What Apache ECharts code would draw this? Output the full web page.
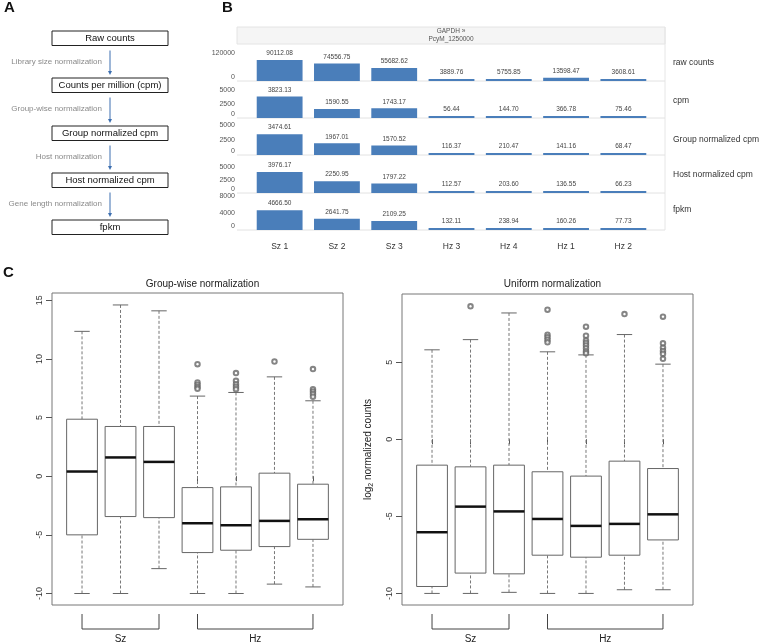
<!DOCTYPE html>
<html><head><meta charset="utf-8">
<script src="https://cdn.jsdelivr.net/npm/echarts@6/dist/echarts.min.js"></script>
<style>html,body{margin:0;padding:0;background:#fff}#c{width:759px;height:643px}</style>
</head><body><div id="c"></div><script>
// ---------- DATA ----------
const flowSteps = ['Raw counts', 'Counts per million (cpm)', 'Group normalized cpm', 'Host normalized cpm', 'fpkm'];
const flowLabels = ['Library size normalization', 'Group-wise normalization', 'Host normalization', 'Gene length normalization'];

const samples = ['Sz 1', 'Sz 2', 'Sz 3', 'Hz 3', 'Hz 4', 'Hz 1', 'Hz 2'];
const rowNames = ['raw counts', 'cpm', 'Group normalized cpm', 'Host normalized cpm', 'fpkm'];
const headerLines = ['GAPDH \u00bb', 'PcyM_1250000'];
const rawCounts = [90112.08, 74556.75, 55682.62, 3889.76, 5755.85, 13598.47, 3608.61];
const cpmValues = [3823.13, 1590.55, 1743.17, 56.44, 144.70, 366.78, 75.46];
const groupCpm  = [3474.61, 1967.01, 1570.52, 116.37, 210.47, 141.16, 68.47];
const hostCpm   = [3976.17, 2250.95, 1797.22, 112.57, 203.60, 136.55, 66.23];
const fpkmValues = [4666.50, 2641.75, 2109.25, 132.11, 238.94, 160.26, 77.73];
const rowTicks = [[0, 120000], [0, 2500, 5000], [0, 2500, 5000], [0, 2500, 5000], [0, 4000, 8000]];

const boxGroups = ['Sz', 'Hz'];
const boxGroupRanges = [[1, 3], [4, 7]];
// [lower whisker, Q1, median, Q3, upper whisker]
const groupwiseBoxes = [
  [-10, -5.0, 0.40, 4.86, 12.35],
  [-10, -3.44, 1.60, 4.24, 14.6],
  [-7.88, -3.53, 1.22, 4.24, 14.1],
  [-10, -6.51, -4.01, -0.97, 6.83],
  [-10, -6.31, -4.18, -0.91, 7.14],
  [-9.2, -6.0, -3.81, 0.26, 8.47],
  [-9.44, -5.38, -3.67, -0.68, 6.43]
];
const groupwiseOutliers = [[], [], [], [9.55, 8.0, 7.8, 7.6, 7.45], [8.79, 8.13, 7.85, 7.62, 7.42], [9.78], [9.13, 7.42, 7.22, 7.0, 6.78]];
const groupwiseTicks = [-10, -5, 0, 5, 10, 15];

const uniformBoxes = [
  [-10, -9.55, -6.03, -1.68, 5.8],
  [-10, -8.68, -4.37, -1.79, 6.46],
  [-9.93, -8.73, -4.68, -1.68, 8.19],
  [-10, -7.52, -5.17, -2.11, 5.67],
  [-10, -7.65, -5.62, -2.39, 5.47],
  [-9.76, -7.52, -5.49, -1.42, 6.79],
  [-9.76, -6.53, -4.87, -1.9, 4.87]
];
const uniformOutliers = [[], [8.62], [], [8.4, 6.77, 6.62, 6.46, 6.29], [7.3, 6.72, 6.4, 6.25, 6.08, 5.9, 5.71, 5.58], [8.12], [7.95, 6.22, 5.93, 5.72, 5.54, 5.22]];
const uniformTicks = [-10, -5, 0, 5];
const boxPositions = [1, 2, 3, 4, 5, 6, 7];

// ---------- LAYOUT / STYLE ----------
const FONT = '"Liberation Sans", Arial, Helvetica, sans-serif';
const chart = echarts.init(document.getElementById('c'), null, {renderer: 'canvas'});

const A = {left: 52, width: 116, tops: [31, 78, 126, 173, 220], h: 14.5, arrowX: 110, labelRight: 102};
const B = {left: 251, right: 107, tops: [44, 81, 118, 156, 193], h: 37, paneL: 237, paneR: 665, headerTop: 27, headerH: 17,
  rowMax: [158600, 6610, 6170, 7030, 8700], rowLabelX: 673, rowLabelY: [63, 101, 140, 175, 210]};
const rowSeries = [rawCounts, cpmValues, groupCpm, hostCpm, fpkmValues];
const C = [
  {left: 52, top: 293, width: 291, height: 312, ymin: -10.98, ymax: 15.62, ticks: groupwiseTicks, boxes: groupwiseBoxes, outl: groupwiseOutliers, title: 'Group-wise normalization', ylab: null},
  {left: 402, top: 294, width: 291, height: 311, ymin: -10.75, ymax: 9.42, ticks: uniformTicks, boxes: uniformBoxes, outl: uniformOutliers, title: 'Uniform normalization', ylab: 'log{s|2} normalized counts'}
];

const grids = [], xAxes = [], yAxes = [], series = [], graphics = [], titles = [];

// ---------- Panel A ----------
graphics.push({type: 'text', id: 'lA', left: 4, top: 0, style: {text: 'A', fontSize: 15, fontWeight: 'bold', fontFamily: FONT, fill: '#111'}});
flowSteps.forEach((s, i) => {
  graphics.push({type: 'rect', id: 'fb' + i, shape: {x: A.left, y: A.tops[i], width: A.width, height: A.h}, style: {fill: '#fff', stroke: '#222', lineWidth: 1}});
  graphics.push({type: 'text', id: 'ft' + i, x: A.left + A.width / 2, y: A.tops[i] + A.h / 2 + 0.5, style: {text: s, fontSize: 9.5, fontFamily: FONT, fill: '#111', align: 'center', verticalAlign: 'middle'}});
});
flowLabels.forEach((s, i) => {
  const y1 = A.tops[i] + A.h + 5, y2 = A.tops[i + 1] - 3;
  graphics.push({type: 'line', id: 'fa' + i, shape: {x1: A.arrowX, y1: y1, x2: A.arrowX, y2: y2 - 3}, style: {stroke: '#3d6fb0', lineWidth: 1}});
  graphics.push({type: 'polygon', id: 'fh' + i, shape: {points: [[A.arrowX - 2, y2 - 4], [A.arrowX + 2, y2 - 4], [A.arrowX, y2]]}, style: {fill: '#3d6fb0'}});
  graphics.push({type: 'text', id: 'fl' + i, x: A.labelRight, y: (A.tops[i] + A.h + A.tops[i + 1]) / 2, style: {text: s, fontSize: 8, fontFamily: FONT, fill: '#8a8a8a', align: 'right', verticalAlign: 'middle'}});
});

// ---------- Panel B ----------
graphics.push({type: 'text', id: 'lB', left: 222, top: 0, style: {text: 'B', fontSize: 15, fontWeight: 'bold', fontFamily: FONT, fill: '#111'}});
graphics.push({type: 'rect', id: 'hdr', z: -1, shape: {x: B.paneL, y: B.headerTop, width: B.paneR - B.paneL, height: B.headerH}, style: {fill: '#f5f5f5', stroke: '#e4e4e4', lineWidth: 1}});
graphics.push({type: 'text', id: 'hdrt', x: (B.paneL + B.paneR) / 2, y: B.headerTop + B.headerH / 2, style: {text: headerLines.join('\n'), fontSize: 6.5, lineHeight: 8, fontFamily: FONT, fill: '#555', align: 'center', verticalAlign: 'middle'}});
graphics.push({type: 'line', id: 'vr', shape: {x1: B.paneR, y1: B.headerTop, x2: B.paneR, y2: B.tops[4] + B.h}, style: {stroke: '#e6e6e6', lineWidth: 1}});
rowSeries.forEach((vals, i) => {
  const base = B.tops[i] + B.h;
  grids.push({left: B.left, right: B.right, top: B.tops[i], height: B.h, outerBoundsMode: 'none', containLabel: false});
  xAxes.push({type: 'category', gridIndex: i, data: samples, axisLine: {show: false}, axisTick: {show: false}, splitLine: {show: false},
    axisLabel: {show: i === 4, fontSize: 8.5, color: '#333', margin: 12, fontFamily: FONT}});
  yAxes.push({type: 'value', gridIndex: i, min: 0, max: B.rowMax[i], splitLine: {show: false}, axisLine: {show: false}, axisTick: {show: false},
    axisLabel: {customValues: rowTicks[i], fontSize: 7, color: '#555', margin: 16, fontFamily: FONT,
      formatter: v => v === 0 ? '{z|0}' : String(v),
      rich: {z: {fontSize: 7, color: '#555', fontFamily: FONT, padding: [0, 0, 8, 0]}}}});
  series.push({type: 'bar', xAxisIndex: i, yAxisIndex: i, data: vals, barWidth: '80%', barMinHeight: 2, animation: false, silent: true,
    itemStyle: {color: '#4a7eba'},
    label: {show: true, position: 'top', distance: 3, fontSize: 6.5, color: '#444', fontFamily: FONT, formatter: p => p.value.toFixed(2)}});
  graphics.push({type: 'line', id: 'sep' + i, shape: {x1: B.paneL, y1: base, x2: B.paneR, y2: base}, style: {stroke: '#e2e2e2', lineWidth: 1}});
  graphics.push({type: 'text', id: 'rn' + i, x: B.rowLabelX, y: B.rowLabelY[i], style: {text: rowNames[i], fontSize: 8.5, fontFamily: FONT, fill: '#333', align: 'left', verticalAlign: 'middle'}});
});

// ---------- Panel C ----------
graphics.push({type: 'text', id: 'lC', left: 3, top: 265, style: {text: 'C', fontSize: 15, fontWeight: 'bold', fontFamily: FONT, fill: '#111'}});
function renderBox(params, api) {
  const x = api.value(0);
  const lo = api.coord([x, api.value(1)]), q1 = api.coord([x, api.value(2)]), md = api.coord([x, api.value(3)]),
        q3 = api.coord([x, api.value(4)]), hi = api.coord([x, api.value(5)]);
  const half = api.size([0.8, 0])[0] / 2, cap = half / 2;
  const dash = {stroke: '#777', lineWidth: 1, lineDash: [3, 2]};
  const solid = {stroke: '#666', lineWidth: 1};
  return {type: 'group', children: [
    {type: 'line', shape: {x1: hi[0], y1: hi[1], x2: q3[0], y2: q3[1]}, style: dash},
    {type: 'line', shape: {x1: lo[0], y1: lo[1], x2: q1[0], y2: q1[1]}, style: dash},
    {type: 'line', shape: {x1: hi[0] - cap, y1: hi[1], x2: hi[0] + cap, y2: hi[1]}, style: solid},
    {type: 'line', shape: {x1: lo[0] - cap, y1: lo[1], x2: lo[0] + cap, y2: lo[1]}, style: solid},
    {type: 'rect', shape: {x: q3[0] - half, y: q3[1], width: 2 * half, height: q1[1] - q3[1]}, style: {fill: '#fff', stroke: '#666', lineWidth: 1}},
    {type: 'line', shape: {x1: md[0] - half, y1: md[1], x2: md[0] + half, y2: md[1]}, style: {stroke: '#111', lineWidth: 2.5}}
  ]};
}
C.forEach((p, k) => {
  const gi = 5 + k;
  grids.push({left: p.left, top: p.top, width: p.width, height: p.height, show: true, borderColor: '#777', borderWidth: 1, backgroundColor: 'transparent', outerBoundsMode: 'none', containLabel: false});
  xAxes.push({type: 'value', gridIndex: gi, min: 0.22, max: 7.78, splitLine: {show: false}, axisLine: {show: false},
    axisTick: {show: true, customValues: boxPositions, length: 5, lineStyle: {color: '#555'}}, axisLabel: {show: false}});
  const ya = {type: 'value', gridIndex: gi, min: p.ymin, max: p.ymax, splitLine: {show: false}, axisLine: {show: false},
    axisTick: {show: true, customValues: p.ticks, length: 6, lineStyle: {color: '#555'}},
    axisLabel: {customValues: p.ticks, rotate: 90, fontSize: 9, color: '#333', margin: 8, fontFamily: FONT}};
  if (p.ylab) {
    Object.assign(ya, {name: p.ylab, nameLocation: 'middle', nameRotate: 90, nameGap: 27,
      nameTextStyle: {fontSize: 10, color: '#222', fontFamily: FONT, rich: {s: {fontSize: 7, color: '#222', fontFamily: FONT, padding: [6, 0, 0, 0]}}}});
  }
  yAxes.push(ya);
  series.push({type: 'custom', xAxisIndex: gi, yAxisIndex: gi, renderItem: renderBox, animation: false, silent: true,
    encode: {x: 0, y: [1, 2, 3, 4, 5]},
    data: p.boxes.map((b, i) => [boxPositions[i]].concat(b))});
  const pts = [];
  p.outl.forEach((arr, i) => arr.forEach(v => pts.push([boxPositions[i], v])));
  series.push({type: 'scatter', xAxisIndex: gi, yAxisIndex: gi, data: pts, symbol: 'emptyCircle', symbolSize: 4.5, animation: false, silent: true,
    itemStyle: {color: '#666', borderColor: '#666', borderWidth: 1}});
  titles.push({text: p.title, left: p.left + p.width / 2, top: 274, textAlign: 'center',
    textStyle: {fontSize: 10, fontWeight: 'normal', color: '#222', fontFamily: FONT}});
});

chart.setOption({
  animation: false,
  backgroundColor: '#fff',
  textStyle: {fontFamily: FONT},
  title: titles,
  grid: grids, xAxis: xAxes, yAxis: yAxes, series: series,
  graphic: graphics
});

// brackets below panel C, positioned through the axes
const extra = [];
C.forEach((p, k) => {
  const gi = 5 + k;
  const yb = p.top + p.height;
  boxGroupRanges.forEach((r, j) => {
    const x1 = chart.convertToPixel({xAxisIndex: gi}, r[0]);
    const x2 = chart.convertToPixel({xAxisIndex: gi}, r[1]);
    extra.push({type: 'polyline', id: 'br' + k + j, shape: {points: [[x1, yb + 9], [x1, yb + 24], [x2, yb + 24], [x2, yb + 9]]}, style: {stroke: '#444', lineWidth: 1, fill: null}});
    extra.push({type: 'text', id: 'bt' + k + j, x: (x1 + x2) / 2, y: yb + 34, style: {text: boxGroups[j], fontSize: 10, fontFamily: FONT, fill: '#222', align: 'center', verticalAlign: 'middle'}});
  });
});
chart.setOption({graphic: extra});
</script></body></html>
